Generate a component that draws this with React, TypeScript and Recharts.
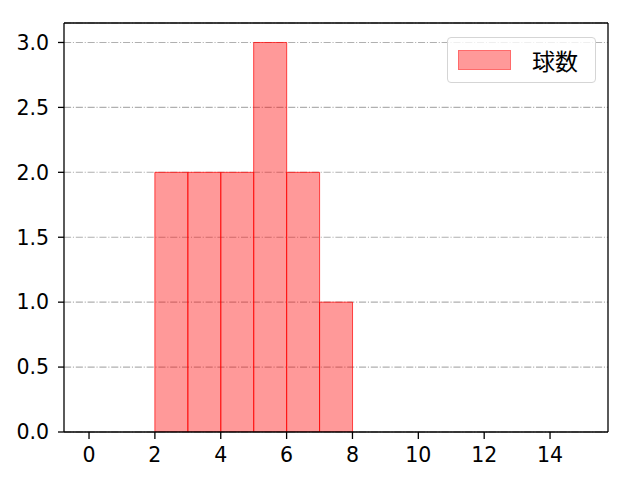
import React from "react";
import {
  ComposedChart,
  Bar,
  XAxis,
  YAxis,
  CartesianGrid,
  ReferenceLine,
} from "recharts";

// histogram bins (centre of each unit-wide bin) and counts
const binCenters = [2.5, 3.5, 4.5, 5.5, 6.5, 7.5];
const counts = [2, 2, 2, 3, 2, 1];
const xTicks = [0, 2, 4, 6, 8, 10, 12, 14];
const yTicks = [0, 0.5, 1, 1.5, 2, 2.5, 3];
const xDomain: [number, number] = [-0.76, 15.76];
const yDomain: [number, number] = [0, 3.15];
const seriesName = "球数";

const data = binCenters.map((x, i) => ({ x, count: counts[i] }));

const TICK_FONT = "'DejaVu Sans', sans-serif";
const CJK_FONT = "'Noto Sans CJK JP', 'Noto Sans', sans-serif";
const tickStyle = { fontSize: 20.5, fill: "#000", fontFamily: TICK_FONT };
const axisStroke = { stroke: "#000", strokeWidth: 1.3 };

function LegendBox() {
  return (
    <div
      style={{
        position: "absolute",
        left: 447,
        top: 37,
        width: 149,
        height: 46,
        border: "1px solid #d5d5d5",
        borderRadius: 4,
        background: "rgba(255,255,255,0.8)",
        boxSizing: "border-box",
        display: "flex",
        alignItems: "center",
        fontFamily: CJK_FONT,
      }}
    >
      <div
        style={{
          marginLeft: 10,
          width: 53,
          height: 20,
          background: "rgba(255,0,0,0.4)",
          border: "1px solid rgba(255,0,0,0.3)",
          boxSizing: "border-box",
        }}
      />
      <span style={{ marginLeft: 21, fontSize: 23, lineHeight: "23px", color: "#000" }}>
        {seriesName}
      </span>
    </div>
  );
}

export default function App() {
  return (
    <div style={{ position: "absolute", left: 0, top: 0, width: 640, height: 480, background: "#fff" }}>
      <ComposedChart
        width={640}
        height={480}
        data={data}
        margin={{ top: 23, right: 32, left: 0, bottom: 0 }}
        barCategoryGap={0}
        barGap={0}
      >
        <CartesianGrid
          horizontal
          vertical={false}
          stroke="#b0b0b0"
          strokeWidth={1.1}
          strokeDasharray="7.1 1.8 1.1 1.8"
        />
        <XAxis
          dataKey="x"
          type="number"
          domain={xDomain}
          ticks={xTicks}
          allowDataOverflow
          height={48}
          tickSize={7}
          tickMargin={8}
          tick={tickStyle}
          axisLine={axisStroke}
          tickLine={axisStroke}
        />
        <YAxis
          type="number"
          domain={yDomain}
          ticks={yTicks}
          allowDataOverflow
          width={64}
          tickSize={6}
          tickMargin={9}
          tick={tickStyle}
          tickFormatter={(v: number) => v.toFixed(1)}
          axisLine={axisStroke}
          tickLine={axisStroke}
        />
        <Bar
          dataKey="count"
          name={seriesName}
          fill="#ff0000"
          fillOpacity={0.4}
          stroke="#ff0000"
          strokeOpacity={0.7}
          strokeWidth={1}
          isAnimationActive={false}
        />
        <ReferenceLine y={yDomain[1]} stroke="#000" strokeWidth={1.3} ifOverflow="extendDomain" />
        <ReferenceLine x={xDomain[1]} stroke="#000" strokeWidth={1.3} ifOverflow="extendDomain" />
      </ComposedChart>
      <LegendBox />
    </div>
  );
}
